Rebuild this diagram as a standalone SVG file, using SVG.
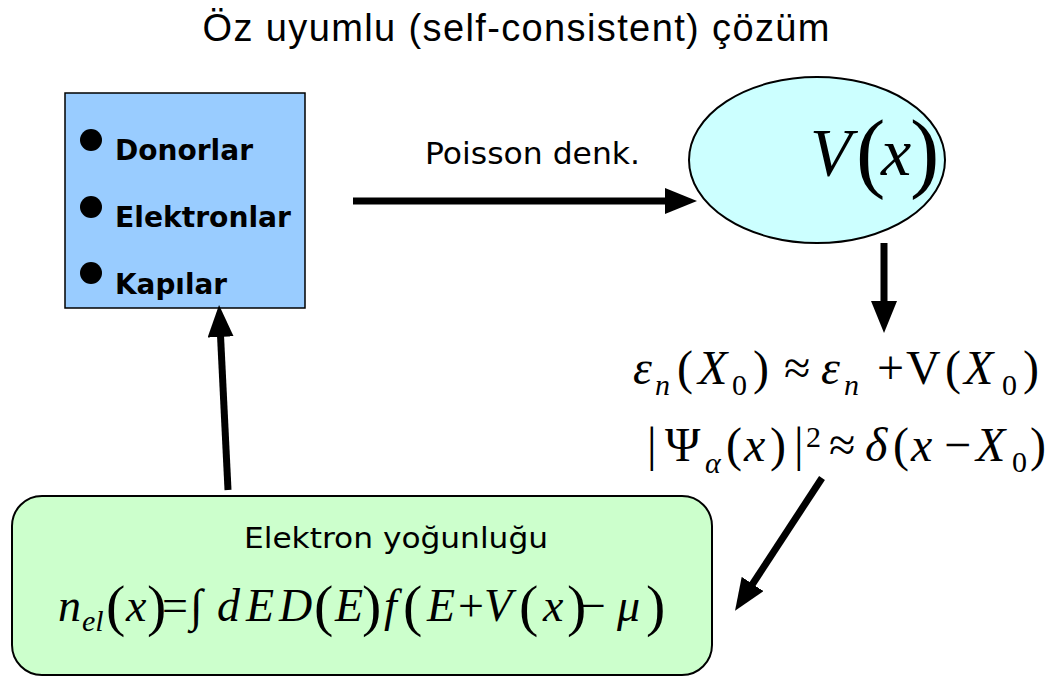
<svg xmlns="http://www.w3.org/2000/svg" width="1059" height="679" viewBox="0 0 1059 679">
<style>
.tah{font-family:"DejaVu Sans","Liberation Sans",sans-serif;fill:#000}
.b{font-weight:bold}
.m{font-family:"Liberation Serif","Times New Roman",serif;fill:#000}
.i{font-style:italic}
.conn{stroke:#000;stroke-width:7;fill:none}
</style>
<defs>
<marker id="ah" markerUnits="userSpaceOnUse" markerWidth="32" markerHeight="26" refX="12" refY="13" orient="auto" viewBox="0 0 32 26">
<path d="M0,0 L32,13 L0,26 z" fill="#000"/>
</marker>
</defs>
<rect width="1059" height="679" fill="#fff"/>
<text id="title" x="516" y="41" text-anchor="middle" font-family="Liberation Sans, Arial, sans-serif" font-size="38" textLength="627">Öz uyumlu (self-consistent) çözüm</text>

<g id="inputs">
<rect x="65" y="93" width="240" height="215" fill="#99CCFF" stroke="#000" stroke-width="1.5"/>
<circle cx="91" cy="140" r="11" fill="#000"/>
<circle cx="91" cy="207" r="11" fill="#000"/>
<circle cx="91" cy="273" r="11" fill="#000"/>
<text class="tah b" x="115" y="160" font-size="29" textLength="138" lengthAdjust="spacingAndGlyphs">Donorlar</text>
<text class="tah b" x="115" y="227" font-size="29" textLength="176" lengthAdjust="spacingAndGlyphs">Elektronlar</text>
<text class="tah b" x="115" y="294" font-size="29" textLength="112" lengthAdjust="spacingAndGlyphs">Kapılar</text>
</g>

<g id="potential">
<ellipse cx="817" cy="160" rx="128" ry="83" fill="#CCFFFF" stroke="#000" stroke-width="2"/>
<text class="m" y="175" font-size="68"><tspan class="i" x="810">V</tspan><tspan x="856" y="181" font-size="88">(</tspan><tspan class="i" x="881" y="175">x</tspan><tspan x="910" y="181" font-size="88">)</tspan></text>
</g>

<g id="poisson-label">
<text class="tah" x="425" y="164" font-size="30" textLength="215" lengthAdjust="spacingAndGlyphs">Poisson denk.</text>
</g>

<g id="approx">
<text class="m" font-size="48" y="384"><tspan class="i" x="633">ε</tspan><tspan class="i" x="655" y="395" font-size="30">n</tspan><tspan x="677" y="384">(</tspan><tspan class="i" x="698">X</tspan><tspan x="732" y="395" font-size="30">0</tspan><tspan x="753" y="384">)</tspan><tspan x="784">≈</tspan><tspan class="i" x="821">ε</tspan><tspan class="i" x="844" y="395" font-size="30">n</tspan><tspan x="877" y="384">+</tspan><tspan x="906">V</tspan><tspan x="945">(</tspan><tspan class="i" x="964">X</tspan><tspan x="1002" y="395" font-size="30">0</tspan><tspan x="1023" y="384">)</tspan></text>
<text class="m" font-size="48" y="461"><tspan x="647">|</tspan><tspan x="665">Ψ</tspan><tspan class="i" x="705" y="473" font-size="30">α</tspan><tspan x="726" y="461">(</tspan><tspan class="i" x="744">x</tspan><tspan x="770">)</tspan><tspan x="794">|</tspan><tspan x="806" y="447" font-size="30">2</tspan><tspan x="829" y="461">≈</tspan><tspan class="i" x="865">δ</tspan><tspan x="893">(</tspan><tspan class="i" x="911">x</tspan><tspan x="944">−</tspan><tspan class="i" x="976">X</tspan><tspan x="1012" y="472" font-size="30">0</tspan><tspan x="1030" y="461">)</tspan></text>
</g>

<g id="density">
<rect x="12" y="496" width="700" height="179" rx="30" ry="30" fill="#CCFFCC" stroke="#000" stroke-width="2"/>
<text class="tah" x="244" y="548" font-size="29" textLength="304" lengthAdjust="spacingAndGlyphs">Elektron yoğunluğu</text>
<text class="m" font-size="46" y="621"><tspan class="i" x="58">n</tspan><tspan class="i" x="82" y="631" font-size="30">el</tspan><tspan x="106" y="625" font-size="58">(</tspan><tspan class="i" x="126" y="621">x</tspan><tspan x="147" y="625" font-size="58">)</tspan><tspan x="162" y="621">=</tspan><tspan x="190">∫</tspan><tspan class="i" x="217">d</tspan><tspan class="i" x="246">E</tspan><tspan class="i" x="279">D</tspan><tspan x="314" y="625" font-size="58">(</tspan><tspan class="i" x="335" y="621">E</tspan><tspan x="362" y="625" font-size="58">)</tspan><tspan class="i" x="384" y="621">f</tspan><tspan x="403" y="625" font-size="58">(</tspan><tspan class="i" x="427" y="621">E</tspan><tspan x="458">+</tspan><tspan class="i" x="484">V</tspan><tspan x="519" y="625" font-size="58">(</tspan><tspan class="i" x="543" y="621">x</tspan><tspan x="567" y="625" font-size="58">)</tspan><tspan x="580" y="621">−</tspan><tspan class="i" x="617">μ</tspan><tspan x="646" y="625" font-size="58">)</tspan></text>
</g>

<g id="connectors">
<line class="conn" x1="353" y1="201" x2="677" y2="201" marker-end="url(#ah)"/>
<line class="conn" x1="884" y1="243" x2="884" y2="313" marker-end="url(#ah)"/>
<line class="conn" x1="822" y1="478" x2="746" y2="594" marker-end="url(#ah)"/>
<line class="conn" x1="228" y1="490" x2="220" y2="325" marker-end="url(#ah)"/>
</g>
</svg>
